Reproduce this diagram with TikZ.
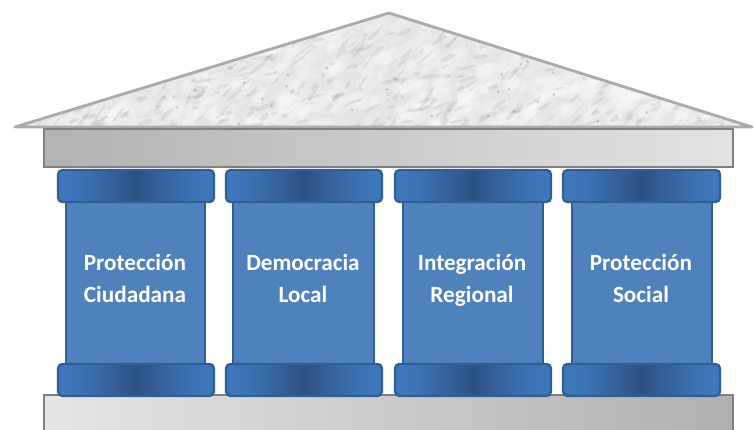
\documentclass[tikz,border=0pt]{standalone}
\usepackage{fontspec}
\setmainfont{Carlito}
\definecolor{capedge}{HTML}{2F5F93}
\definecolor{capside}{HTML}{3F78BC}
\definecolor{capmid}{HTML}{2A5284}
\definecolor{capa}{HTML}{3C72B3}
\definecolor{capb}{HTML}{345F98}
\definecolor{shaft}{HTML}{4F81BD}
\pgfdeclarehorizontalshading{capshade}{100bp}{color(0bp)=(capside); color(25bp)=(capside); color(33bp)=(capa); color(43bp)=(capb); color(50bp)=(capmid); color(57bp)=(capb); color(67bp)=(capa); color(75bp)=(capside); color(100bp)=(capside)}
\newcommand{\lh}{\vphantom{Ág}}
\tikzset{
  capital/.style={draw=capedge,line width=2.4pt,rounded corners=4.5pt,shading=capshade},
  shaftbox/.style={draw=capedge,line width=2.4pt,fill=shaft},
  beam/.style={draw=black!50,line width=2.6pt},
  pillarlabel/.style={text=white,font=\bfseries\fontsize{23.2}{32}\selectfont,align=center,inner sep=0pt},
}
\begin{document}
\begin{tikzpicture}[x=1pt,y=-1pt]
\useasboundingbox (0,0) rectangle (755,430);
\fill[white] (0,0) rectangle (755,430);
% roof
\fill[black!10] (389,13) -- (752,127) -- (15,127) -- cycle;
\begin{scope}
\clip (389,13) -- (752,127) -- (15,127) -- cycle;
\pgfmathsetseed{4711}
\foreach \i in {1,...,1000}{
  \pgfmathsetmacro{\px}{20+rnd*720}
  \pgfmathsetmacro{\py}{16+rnd*112}
  \pgfmathsetmacro{\ang}{10+rnd*50}
  \pgfmathsetmacro{\ra}{3+rnd*11}
  \pgfmathsetmacro{\rb}{2+rnd*5}
  \fill[white,opacity=0.2,rotate around={\ang:(\px,\py)}] (\px,\py) ellipse [x radius=\ra,y radius=\rb];
}
\foreach \i in {1,...,420}{
  \pgfmathsetmacro{\px}{20+rnd*720}
  \pgfmathsetmacro{\py}{20+rnd*107}
  \pgfmathsetmacro{\ang}{5+rnd*50}
  \pgfmathsetmacro{\ra}{2+rnd*8}
  \pgfmathsetmacro{\rb}{0.9+rnd*1.7}
  \fill[black!60,opacity=0.11,rotate around={\ang:(\px,\py)}] (\px,\py) ellipse [x radius=\ra,y radius=\rb];
}
\foreach \i in {1,...,40}{
  \pgfmathsetmacro{\px}{20+rnd*720}
  \pgfmathsetmacro{\py}{60+rnd*65}
  \fill[black!60,opacity=0.25] (\px,\py) circle [radius=1.6];
}
\end{scope}
\draw[draw=black!33,line width=2.8pt,line join=round] (389,13) -- (752,127) -- (15,127) -- cycle;
% entablature
\draw[beam,left color=black!30,right color=black!11] (44,129) rectangle (733,167);
% base
\draw[beam,left color=black!10,right color=black!31] (44,395) rectangle (733,436);
% pillars
\foreach \cl/\cr/\sl/\sr in {58/214/66/205,226/382/233/374,395/551/403/543,563/720/572/712}{
  \draw[shaftbox] (\sl,200) rectangle (\sr,366);
  \draw[capital] (\cl,170) rectangle (\cr,202);
  \draw[capital] (\cl,364) rectangle (\cr,396);
}
\node[pillarlabel] (a) at (135,278.5) {Protección\lh\\Ciudadana\lh};
\node[pillarlabel] (b) at (303,278.5) {Democracia\lh\\Local\lh};
\node[pillarlabel] (c) at (472,278.5) {Integración\lh\\Regional\lh};
\node[pillarlabel] (d) at (641,278.5) {Protección\lh\\Social\lh};
\end{tikzpicture}
\end{document}
